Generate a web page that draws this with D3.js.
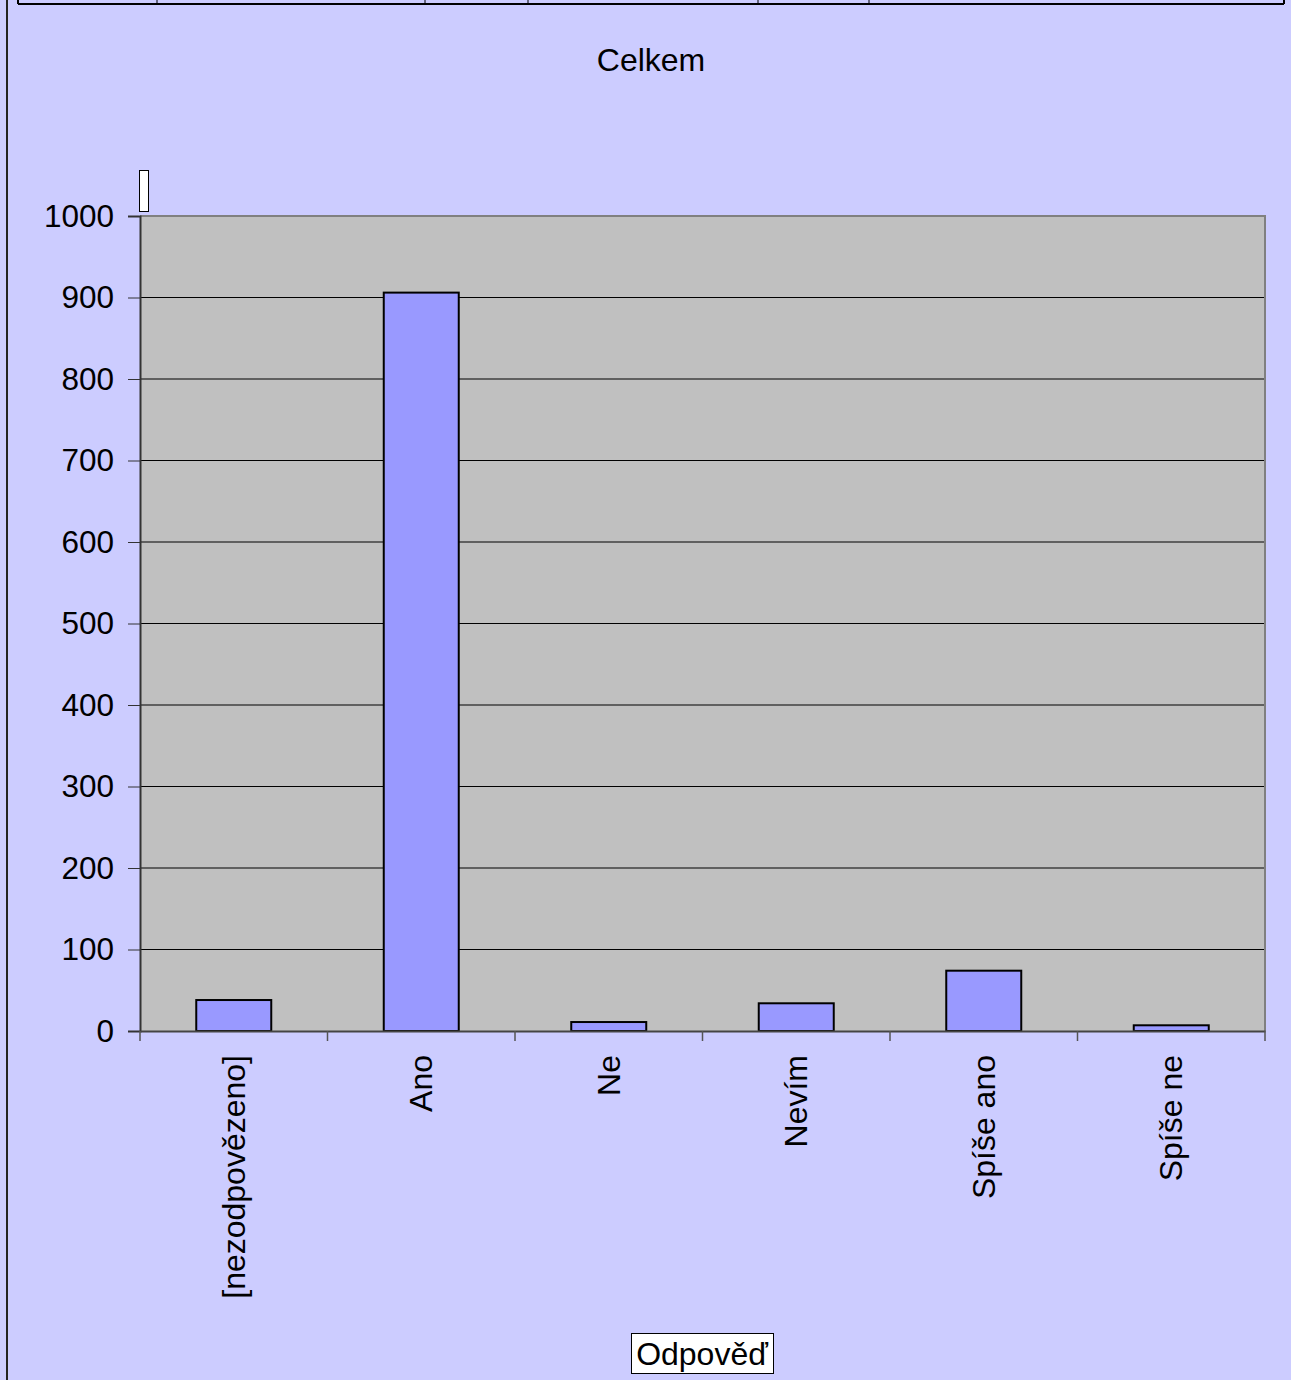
<!DOCTYPE html>
<html><head><meta charset="utf-8">
<script src="https://cdn.jsdelivr.net/npm/d3@7"></script>
<style>html,body{margin:0;padding:0;background:#CCCCFF;overflow:hidden}</style>
</head><body>
<script>
const categories = ["[nezodpovězeno]", "Ano", "Ne", "Nevím", "Spíše ano", "Spíše ne"];
const values = [38, 906, 11, 34, 74, 7];
const yTicks = [0, 100, 200, 300, 400, 500, 600, 700, 800, 900, 1000];
const title = "Celkem";
const xTitle = "Odpověď";
const tableCols = [18, 157, 425, 528, 758, 869, 1284];

const W = 1291, H = 1380;
const FONT = "'Liberation Sans', Arial, Helvetica, sans-serif";
const svg = d3.select("body").append("svg").attr("width", W).attr("height", H)
  .style("font-family", FONT);
svg.append("rect").attr("width", W).attr("height", H).attr("fill", "#CCCCFF");
// left border
svg.append("rect").attr("x", 6).attr("y", 0).attr("width", 2).attr("height", H).attr("fill", "#222");
// top table remnant
svg.append("line").attr("x1", tableCols[0]).attr("x2", tableCols[tableCols.length-1]).attr("y1", 4).attr("y2", 4).attr("stroke", "#000").attr("stroke-width", 2);
tableCols.forEach((c, i) => svg.append("line").attr("x1", c).attr("x2", c).attr("y1", 0).attr("y2", 4)
  .attr("stroke", "#000").attr("stroke-width", (i === 0 || i === tableCols.length-1) ? 2 : 1));

const L = 140, R = 1265, T = 216, B = 1031;
const x = d3.scaleBand().domain(categories).range([L, R]).paddingInner(0).paddingOuter(0);
const y = d3.scaleLinear().domain([0, 1000]).range([B, T]);

svg.append("rect").attr("x", L).attr("y", T).attr("width", R - L).attr("height", B - T).attr("fill", "#C0C0C0");
// gridlines
svg.append("g").selectAll("line").data(yTicks.filter(d => d > 0 && d < 1000)).join("line")
  .attr("x1", L).attr("x2", R).attr("y1", d => y(d)).attr("y2", d => y(d))
  .attr("stroke", "#000").attr("stroke-width", 1);
// plot border top/right
svg.append("line").attr("x1", L).attr("x2", R + 1).attr("y1", T).attr("y2", T).attr("stroke", "#808080").attr("stroke-width", 2);
svg.append("line").attr("x1", R).attr("x2", R).attr("y1", T).attr("y2", B).attr("stroke", "#808080").attr("stroke-width", 2);

// bars
const bw = x.bandwidth() * 0.4;
svg.append("g").selectAll("rect").data(categories).join("rect")
  .attr("x", d => x(d) + (x.bandwidth() - bw) / 2)
  .attr("y", (d, i) => y(values[i]))
  .attr("width", bw)
  .attr("height", (d, i) => B - y(values[i]))
  .attr("fill", "#9999FF").attr("stroke", "#000").attr("stroke-width", 2);

// y axis
const yAxis = d3.axisLeft(y).tickValues(yTicks).tickSize(12).tickPadding(14).tickFormat(d3.format("d"));
const gy = svg.append("g").attr("transform", `translate(${L},0)`).call(yAxis);
gy.select(".domain").attr("stroke", "#333").attr("stroke-width", 2);
gy.selectAll(".tick line").attr("stroke", "#333");
gy.selectAll("text").attr("font-size", 31.5).attr("fill", "#000").attr("font-family", FONT);

// x axis
const xAxis = d3.axisBottom(x).tickSize(0).tickFormat("");
const gx = svg.append("g").attr("transform", `translate(0,${B})`).call(xAxis);
gx.select(".domain").attr("stroke", "#444").attr("stroke-width", 2);
const boundaries = categories.map(c => x(c)).concat([R]);
svg.append("g").selectAll("line").data(boundaries).join("line")
  .attr("x1", d => d).attr("x2", d => d).attr("y1", B).attr("y2", B + 10)
  .attr("stroke", "#555").attr("stroke-width", 1.5);
svg.append("g").selectAll("text").data(categories).join("text")
  .attr("transform", d => `translate(${x(d) + x.bandwidth() / 2 + 11},1055) rotate(-90)`)
  .attr("text-anchor", "end").attr("font-size", 32).attr("fill", "#000").text(d => d);

// title
svg.append("text").attr("x", 651).attr("y", 71).attr("text-anchor", "middle").attr("font-size", 32).text(title);

// small white box
svg.append("rect").attr("x", 139.5).attr("y", 170.5).attr("width", 9).attr("height", 41)
  .attr("fill", "#fff").attr("stroke", "#000").attr("stroke-width", 1);

// x title box
svg.append("rect").attr("x", 631.5).attr("y", 1333.5).attr("width", 142).attr("height", 40)
  .attr("fill", "#fff").attr("stroke", "#000").attr("stroke-width", 1);
svg.append("text").attr("x", 702).attr("y", 1365).attr("text-anchor", "middle").attr("font-size", 32).text(xTitle);
</script>
</body></html>
